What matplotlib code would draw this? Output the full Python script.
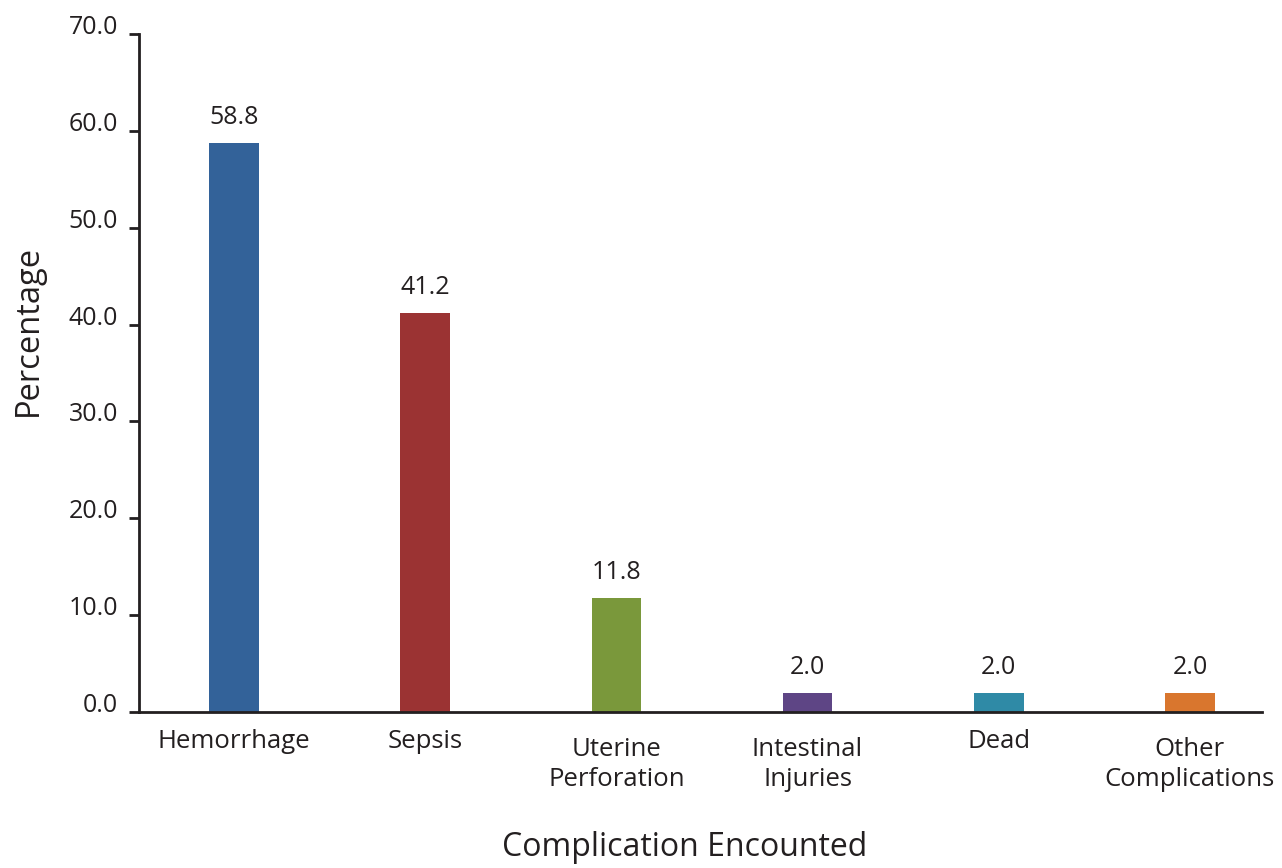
import matplotlib.pyplot as plt
from matplotlib.transforms import ScaledTranslation

# Complications encountered (percent of cases)
categories = ['Hemorrhage', 'Sepsis', 'Uterine\nPerforation', 'Intestinal\nInjuries',
              'Dead', 'Other\nComplications']
percentages = [58.8, 41.2, 11.8, 2.0, 2.0, 2.0]
bar_colors = ['#336299', '#9b3333', '#7a983b', '#5e4585', '#2f8aa6', '#d9762e']
y_ticks = [0, 10, 20, 30, 40, 50, 60, 70]

plt.rcParams['font.family'] = ['Open Sans', 'DejaVu Sans']
ink = '#231f20'

fig = plt.figure(figsize=(12.82, 8.68), dpi=100)
ax = fig.add_axes([0.1084, 0.1797, 0.876, 0.7811])

x = range(len(categories))
bars = ax.bar(x, percentages, width=0.26, color=bar_colors)

# value labels above each bar
for rect, val in zip(bars, percentages):
    ax.annotate(f'{val:.1f}', (rect.get_x() + rect.get_width() / 2, rect.get_height()),
                xytext=(0, 9), textcoords='offset points', ha='center', va='bottom',
                fontsize=18, color=ink)

ax.set_xlim(-0.497, 5.377)
ax.set_ylim(0, 70)

ax.set_yticks(y_ticks)
ax.set_yticklabels([f'{t:.1f}' for t in y_ticks], fontsize=18, color=ink)
for lbl in ax.get_yticklabels():
    lbl.set_verticalalignment('baseline')
ax.tick_params(axis='y', length=7, width=2, color=ink, pad=8)

ax.set_xticks(list(x))
ax.set_xticklabels(categories, fontsize=18.5, color=ink, linespacing=1.3)
ax.tick_params(axis='x', length=0, pad=12)
# two-line category names sit a little lower
for lbl in ax.get_xticklabels():
    if '\n' in lbl.get_text():
        lbl.set_transform(lbl.get_transform() + ScaledTranslation(0, -8 / 100, fig.dpi_scale_trans))

for side in ['top', 'right']:
    ax.spines[side].set_visible(False)
for side in ['left', 'bottom']:
    ax.spines[side].set_linewidth(2)
    ax.spines[side].set_color(ink)

fig.text(28 / 1282, 1 - 330 / 868, 'Percentage', rotation=90, ha='center', va='center',
         fontsize=23.5, color=ink)
fig.text(685 / 1282, 1 - 848 / 868, 'Complication Encounted', ha='center', va='center',
         fontsize=23, color=ink)

fig.savefig('out.png', dpi=100)
